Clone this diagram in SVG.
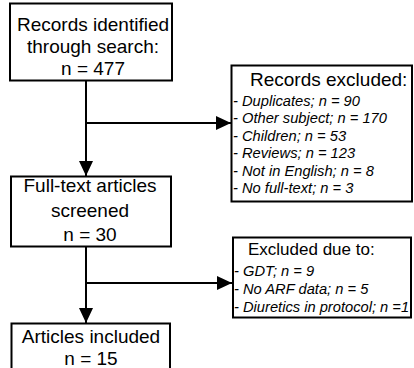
<svg xmlns="http://www.w3.org/2000/svg" width="414" height="368" viewBox="0 0 414 368">
<style>
.box{fill:#fff;stroke:#000;stroke-width:2}
.t{font-family:"Liberation Sans",Arial,sans-serif;font-size:19px;fill:#000;text-anchor:middle}
.h{font-family:"Liberation Sans",Arial,sans-serif;font-size:19px;fill:#000}
.i{font-family:"Liberation Sans",Arial,sans-serif;font-size:14.7px;font-style:italic;fill:#000}
.c{fill:none;stroke:#000;stroke-width:2}
</style>
<defs>
<marker id="ah" markerUnits="userSpaceOnUse" markerWidth="15" markerHeight="14" refX="15" refY="7" orient="auto">
<path d="M0,0 L15,7 L0,14 z" fill="#000"/>
</marker>
</defs>
<rect width="414" height="368" fill="#fff"/>
<g id="connectors">
<line class="c" x1="86" y1="80" x2="86" y2="176" marker-end="url(#ah)"/>
<line class="c" x1="86" y1="123" x2="231" y2="123" marker-end="url(#ah)"/>
<line class="c" x1="86" y1="246" x2="86" y2="323" marker-end="url(#ah)"/>
<line class="c" x1="86" y1="283" x2="232" y2="283" marker-end="url(#ah)"/>
</g>
<g id="records-identified">
<rect class="box" x="10" y="3.5" width="162" height="77"/>
<text class="t" x="93" y="30.5">Records identified</text>
<text class="t" x="93" y="53">through search:</text>
<text class="t" x="93" y="75">n = 477</text>
</g>
<g id="records-excluded">
<rect class="box" x="231.5" y="65.5" width="180.5" height="136"/>
<text class="h" x="250" y="86">Records excluded:</text>
<text class="i" x="233" y="105.5">- Duplicates; n = 90</text>
<text class="i" x="233" y="123">- Other subject; n = 170</text>
<text class="i" x="233" y="140.6">- Children; n = 53</text>
<text class="i" x="233" y="158.2">- Reviews; n = 123</text>
<text class="i" x="233" y="175.8">- Not in English; n = 8</text>
<text class="i" x="233" y="193.4">- No full-text; n = 3</text>
</g>
<g id="full-text">
<rect class="box" x="11" y="176.5" width="160" height="70"/>
<text class="t" x="90" y="192">Full-text articles</text>
<text class="t" x="90" y="216.5">screened</text>
<text class="t" x="90" y="241">n = 30</text>
</g>
<g id="excluded-due">
<rect class="box" x="233" y="237.5" width="178" height="80"/>
<text class="h" x="248" y="255" style="font-size:17px">Excluded due to:</text>
<text class="i" x="234" y="276">- GDT; n = 9</text>
<text class="i" x="234" y="294">- No ARF data; n = 5</text>
<text class="i" x="234" y="311.5">- Diuretics in protocol; n =1</text>
</g>
<g id="articles-included">
<rect class="box" x="11.5" y="323.5" width="158.5" height="50"/>
<text class="t" x="91" y="342.5">Articles included</text>
<text class="t" x="91" y="365">n = 15</text>
</g>
</svg>
